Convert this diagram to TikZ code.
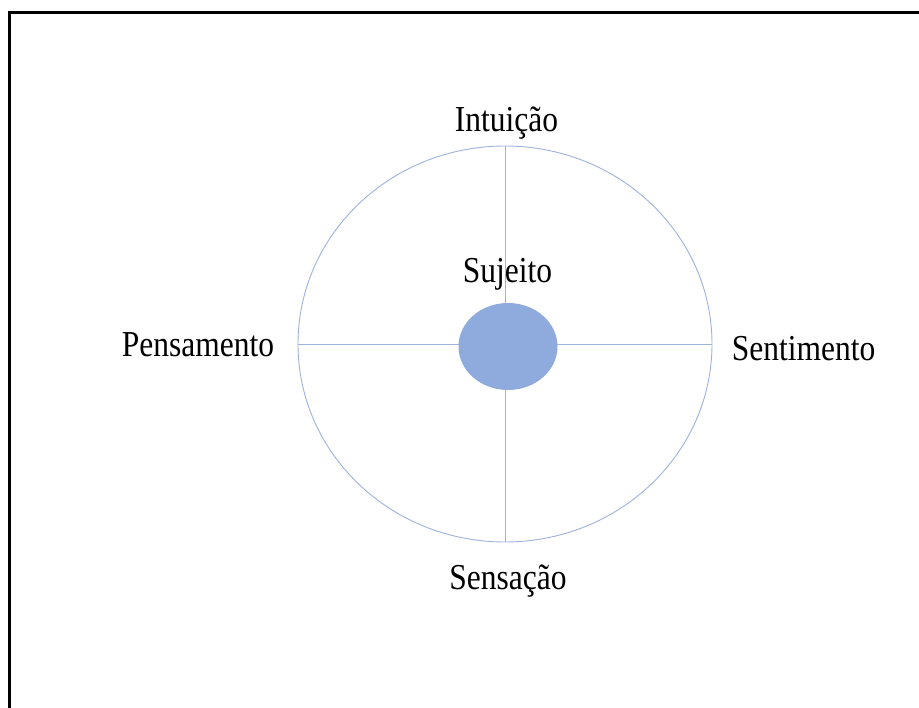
\documentclass[tikz,border=0pt]{standalone}
\usepackage{fontspec}
\usepackage{graphicx}
\setmainfont{Liberation Serif}
\usetikzlibrary{shapes.geometric}
\definecolor{lineblue}{HTML}{9DB3DD}
\definecolor{fillblue}{HTML}{8FAADC}
\newcommand{\tallt}[1]{\scalebox{1}[1.16]{#1}}
\tikzset{
  lbl/.style={font=\fontsize{31.5}{37}\selectfont, text=black, inner sep=0pt, anchor=base},
  ring/.style={ellipse, draw=lineblue, line width=0.9pt, inner sep=0pt},
  axis/.style={draw=lineblue, line width=0.9pt},
  core/.style={ellipse, fill=fillblue, draw=none, inner sep=0pt}
}
\begin{document}
\begin{tikzpicture}[x=1pt,y=-1pt]
\useasboundingbox (0,0) rectangle (919,708);
\fill[white] (0,0) rectangle (919,708);
\coordinate (fb) at (9,710);
\coordinate (fc) at (9,13);
\coordinate (fr) at (921,13);
\draw[line width=3pt, line cap=rect] (fb) -- (fc) -- (fr);
\node[ring, minimum width=414pt, minimum height=396pt] (big) at (505,344) {};
\draw[axis] (big.north) -- (big.south);
\draw[axis] (big.west) -- (big.east);
\node[core, minimum width=99pt, minimum height=87pt] (suj) at (508,346.5) {};
\node[lbl] (intu) at (506.5,132) {\tallt{Intuição}};
\node[lbl] (sujt) at (507.5,283) {\tallt{Sujeito}};
\node[lbl] (pens) at (198,357) {\tallt{Pensamento}};
\node[lbl] (sent) at (803.5,361) {\tallt{Sentimento}};
\node[lbl] (sens) at (508,589) {\tallt{Sensação}};
\end{tikzpicture}
\end{document}
